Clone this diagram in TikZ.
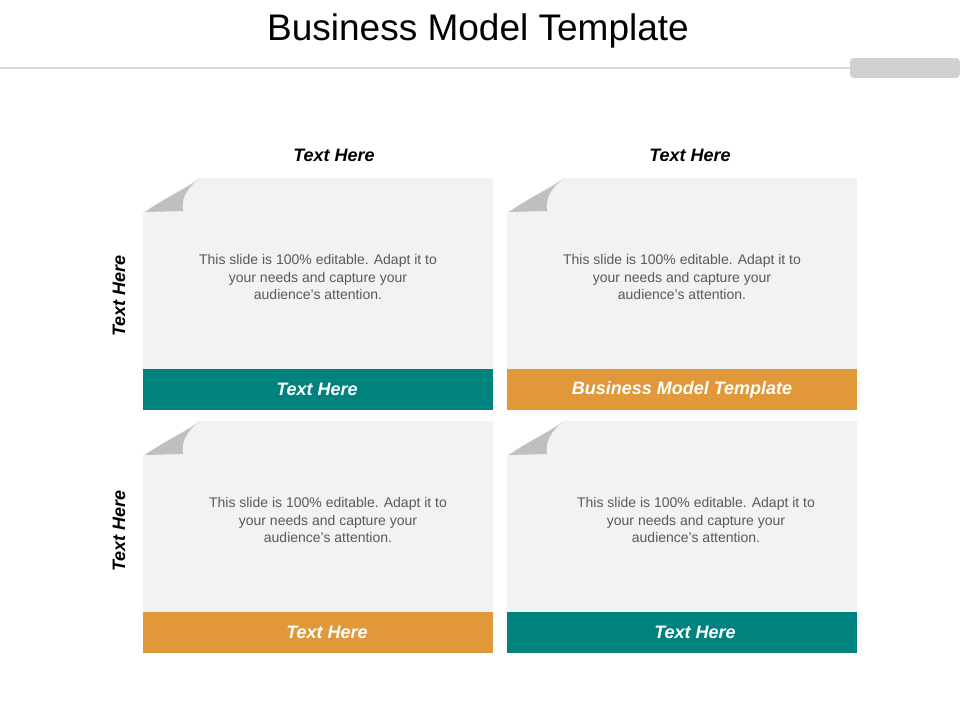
\documentclass[tikz,border=0pt]{standalone}
\usepackage{fontspec}
\setmainfont{Liberation Sans}
\definecolor{panel}{HTML}{F2F2F2}
\definecolor{teal}{HTML}{00827F}
\definecolor{gold}{HTML}{E0983A}
\definecolor{flap}{HTML}{BFBFBF}
\begin{document}
\begin{tikzpicture}[x=1pt,y=-1pt,
  body/.style={align=center,font=\fontsize{14}{17.5}\selectfont,text=black!65},
  band/.style={font=\fontsize{18}{20}\selectfont\bfseries\itshape,text=white},
  head/.style={font=\fontsize{18}{20}\selectfont\bfseries\itshape}]
\useasboundingbox (0,0) rectangle (960,720);
\fill[white] (0,0) rectangle (960,720);
\node (title) at (478,31) {\fontsize{37}{42}\selectfont Business Model Template};
\draw[black!15,line width=2pt] (0,68) -- (850,68);
\fill[black!18,rounded corners=4pt] (850,58) rectangle (960,78);
\foreach \x/\y/\c/\t/\n/\lx in {143/178/teal/Text Here/a/317, 507/178/gold/Business Model Template/b/682, 143/421/gold/Text Here/c/327, 507/421/teal/Text Here/d/695}{
  \fill[panel] (\x,\y+34) -- (\x+57,\y) -- (\x+350,\y) -- (\x+350,\y+191) -- (\x,\y+191) -- cycle;
  \fill[flap] (\x+2,\y+34) .. controls (\x+25,\y+18) and (\x+45,\y+10) .. (\x+57,\y) .. controls (\x+44,\y+10) and (\x+38,\y+20) .. (\x+40,\y+33) -- cycle;
  \fill[\c] (\x,\y+191) rectangle (\x+350,\y+232);
  \node[band] (band\n) at (\lx,\y+211.5) {\t};
}
\node[body] (ta) at (318,277) {This slide is 100\% editable. Adapt it to\\your needs and capture your\\audience's attention.};
\node[body] (tb) at (682,277) {This slide is 100\% editable. Adapt it to\\your needs and capture your\\audience's attention.};
\node[body] (tc) at (328,520) {This slide is 100\% editable. Adapt it to\\your needs and capture your\\audience's attention.};
\node[body] (td) at (696,520) {This slide is 100\% editable. Adapt it to\\your needs and capture your\\audience's attention.};
\node[head] (h1) at (334,155) {Text Here};
\node[head] (h2) at (690,155) {Text Here};
\node[head,rotate=90] (v1) at (119,296) {Text Here};
\node[head,rotate=90] (v2) at (119,531) {Text Here};
\end{tikzpicture}
\end{document}
